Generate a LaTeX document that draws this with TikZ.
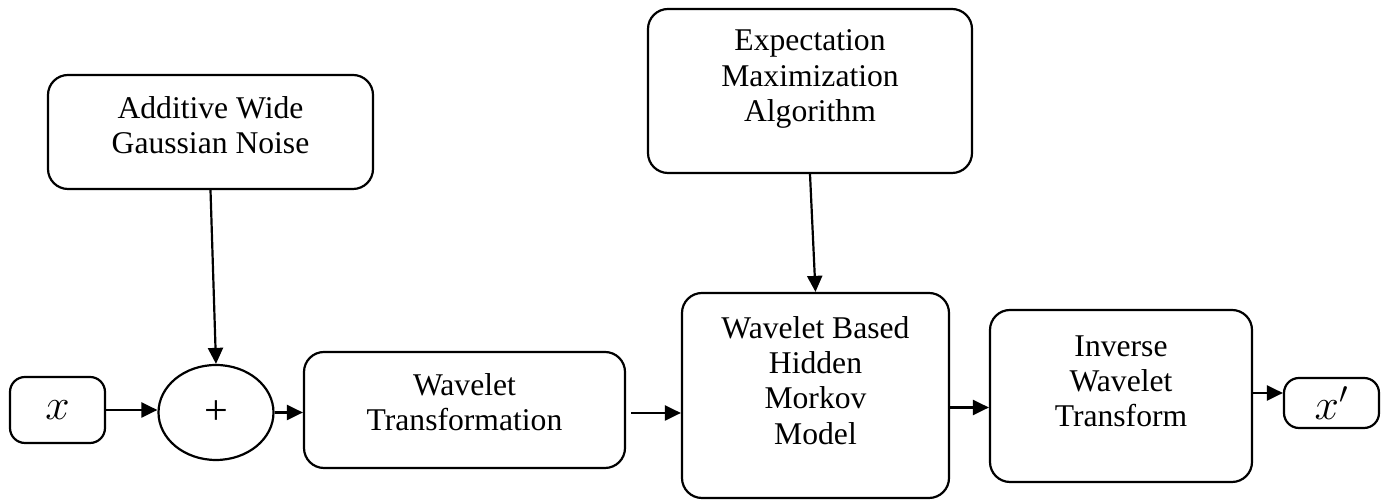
\documentclass[tikz,border=0pt]{standalone}
\usepackage{fontspec}
\setmainfont{Liberation Serif}
\usetikzlibrary{arrows.meta,shapes.geometric}

\tikzset{
  blk/.style={draw,line width=1.25pt,rounded corners=0.4cm,inner sep=0pt},
  txt/.style={align=center,inner sep=0pt,font=\fontsize{18}{20}\selectfont},
  flow/.style={line width=1.25pt,-{Triangle[length=0.32cm,width=0.3cm]}}
}

\begin{document}
\begin{tikzpicture}
  \useasboundingbox (0,0) rectangle (27.62,10);
  % main row
  \node[blk,rounded corners=0.3cm,minimum width=1.9cm,minimum height=1.32cm] (xin) at (1.15,1.8) {};
  \node[txt] (xint) at (xin.center) {\fontsize{26}{26}\selectfont$x$};
  \node[draw,line width=1.25pt,ellipse,minimum width=2.3cm,minimum height=1.9cm] (plus) at (4.32,1.75) {};
  \node[txt] (plust) at (plus.center) {\fontsize{24}{24}\selectfont +};
  \node[blk,minimum width=6.42cm,minimum height=2.32cm] (wt) at (9.29,1.8) {};
  \node[txt] (wtt) at ([yshift=0.16cm]wt.center) {Wavelet\\Transformation};
  \node[blk,minimum width=5.34cm,minimum height=4.1cm] (hmm) at (16.31,2.09) {};
  \node[txt] (hmmt) at ([yshift=0.3cm]hmm.center) {Wavelet Based\\Hidden\\Morkov\\Model};
  \node[blk,minimum width=5.24cm,minimum height=3.44cm] (iwt) at (22.42,2.08) {};
  \node[txt] (iwtt) at ([yshift=0.3cm]iwt.center) {Inverse\\Wavelet\\Transform};
  \node[blk,rounded corners=0.3cm,minimum width=1.9cm,minimum height=1.0cm] (xout) at (26.63,1.94) {};
  \node[txt] (xoutt) at (xout.center) {\fontsize{26}{26}\selectfont$x'$};
  % upper blocks
  \node[blk,minimum width=6.5cm,minimum height=2.28cm] (noise) at (4.21,7.36) {};
  \node[txt] (noiset) at ([yshift=0.14cm]noise.center) {Additive Wide\\Gaussian Noise};
  \node[blk,minimum width=6.48cm,minimum height=3.28cm] (em) at (16.2,8.18) {};
  \node[txt] (emt) at ([yshift=0.24cm]em.center) {Expectation\\Maximization\\Algorithm};
  % connectors
  \draw[flow] (xin.east) -- (xin.east -| plus.west);
  \draw[flow] (plus.east) -- (plus.east -| wt.west);
  \draw[flow,shorten <=0.1cm] ([yshift=-0.06cm]wt.east) -- ([yshift=-0.06cm]wt.east -| hmm.west);
  \draw[flow] ([yshift=-0.24cm]hmm.east) -- ([yshift=-0.24cm]hmm.east -| iwt.west);
  \draw[flow] ([yshift=0.06cm]iwt.east) -- ([yshift=0.06cm]iwt.east -| xout.west);
  \draw[flow] (noise.south) -- (plus.north);
  \draw[flow] (em.south) -- (hmm.north);
\end{tikzpicture}
\end{document}
